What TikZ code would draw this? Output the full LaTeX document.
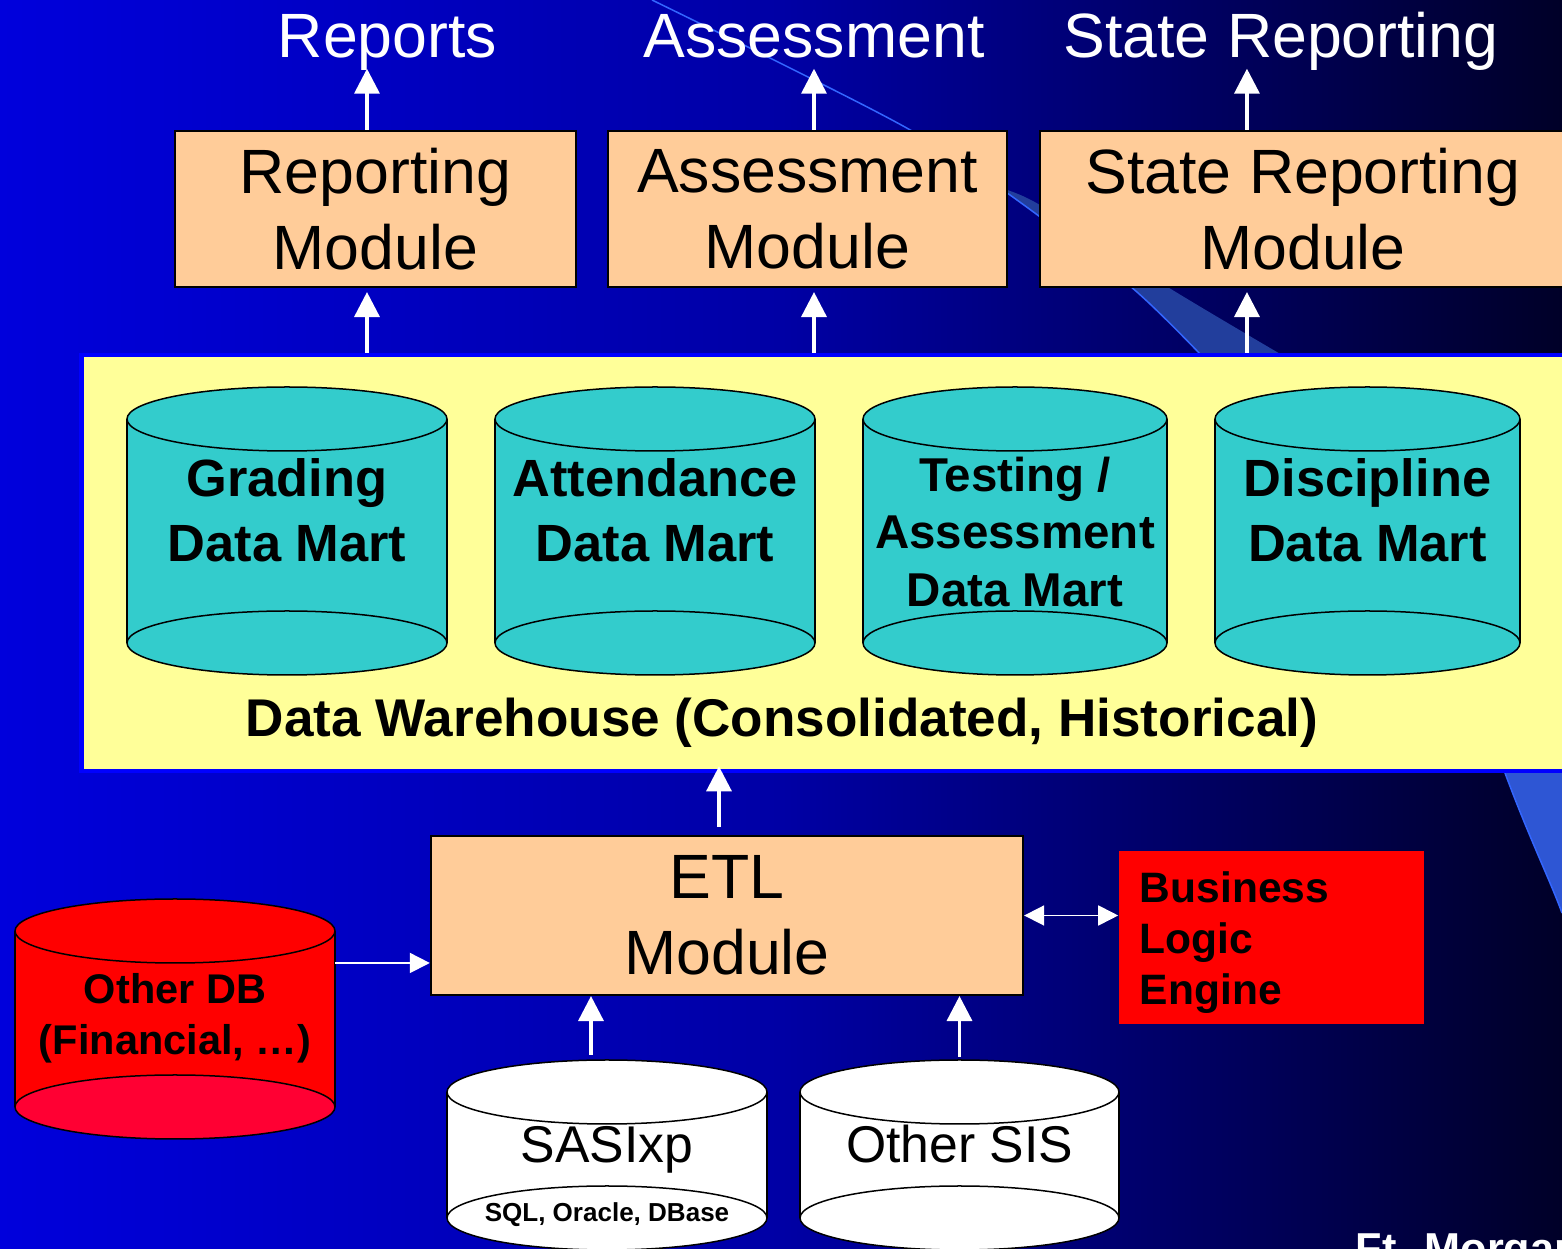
\documentclass[tikz,border=0pt]{standalone}
\usepackage{fontspec}
\setmainfont{Liberation Sans}
\usetikzlibrary{arrows.meta,calc}

\definecolor{peach}{HTML}{FFCC99}
\definecolor{martteal}{HTML}{33CCCC}
\definecolor{dwyellow}{HTML}{FFFF99}
\definecolor{dwblue}{HTML}{0000FF}
\definecolor{bgleft}{RGB}{0,0,220}
\definecolor{bgmid}{RGB}{0,0,165}
\definecolor{bgright}{RGB}{0,0,40}
\definecolor{odbred}{HTML}{FF0000}
\definecolor{odbbase}{HTML}{FF0033}
\definecolor{swooshline}{HTML}{3366FF}
\definecolor{swooshdark}{RGB}{34,62,156}
\definecolor{swooshlight}{RGB}{46,86,212}

% database can: x, top y, bottom y, half width, fill, base fill, name
\newcommand{\dbcan}[7]{%
  \fill[#5] (#1-#4,#2) rectangle (#1+#4,#3);
  \filldraw[fill=#6, draw=black, line width=0.015cm] (#1,#3) ellipse [x radius=#4, y radius=32];
  \filldraw[fill=#5, draw=black, line width=0.015cm] (#1,#2) ellipse [x radius=#4, y radius=32];
  \draw[line width=0.015cm] (#1-#4,#2) -- (#1-#4,#3) (#1+#4,#2) -- (#1+#4,#3);
  \node[inner sep=0pt, outer sep=0pt, minimum width=2*#4*0.01cm,
    minimum height=(#3-#2+64)*0.01cm] (#7) at (#1,{(#2+#3)/2}) {};
}

\begin{document}
\begin{tikzpicture}[x=0.01cm, y=-0.01cm,
  arr/.style={draw=white, line width=0.035cm, -{Triangle[length=0.25cm, width=0.25cm]}},
  thinarr/.style={draw=white, line width=0.018cm, -{Triangle[length=0.2cm, width=0.2cm]}},
  dblarr/.style={draw=white, line width=0.018cm, {Triangle[length=0.2cm, width=0.2cm]}-{Triangle[length=0.2cm, width=0.2cm]}},
  module/.style={draw=black, fill=peach, line width=0.02cm, align=center, inner sep=0pt,
    font=\fontsize{17.8}{21.6}\selectfont},
  toplabel/.style={text=white, inner sep=0.1cm, text depth=0pt, anchor=base,
    font=\fontsize{17.8}{21.6}\selectfont},
  marttext/.style={align=center, inner sep=0pt, font=\bfseries\fontsize{14.9}{18.5}\selectfont},
  sistext/.style={anchor=base, inner sep=0pt, font=\fontsize{14.7}{17}\selectfont}]

\useasboundingbox (0,0) rectangle (1562,1249);
\clip (0,0) rectangle (1562,1249);

% background
\shade[left color=bgleft, right color=bgright, middle color=bgmid] (0,0) rectangle (1562,1249);
\fill[swooshdark] plot[smooth] coordinates {(1000,188) (1130,286) (1201,355)} -- (1282,355)
  -- plot[smooth] coordinates {(1282,355) (1166,286) (1040,205) (1000,188)} -- cycle;
\draw[swooshline, line width=0.015cm] plot[smooth] coordinates {(652,0) (780,63) (912,131) (1010,195) (1130,286) (1201,355)};
\fill[swooshlight] (1505,773) .. controls (1530,840) and (1550,880) .. (1562,913) -- (1562,773) -- cycle;
\draw[swooshline, line width=0.015cm] (1505,773) .. controls (1530,840) and (1550,880) .. (1562,913);

% outputs
\node[toplabel] (replab) at (387.5,58) {Reports};
\node[toplabel] (asslab) at (814,58) {Assessment};
\node[toplabel] (statelab) at (1281,58) {State Reporting};

\node[module, minimum width=4.01cm, minimum height=1.56cm] (rep) at (375.5,209) {Reporting\\Module};
\node[module, minimum width=3.99cm, minimum height=1.56cm] (ass) at (807.5,209) {Assessment\\Module};
\node[module, minimum width=5.26cm, minimum height=1.56cm] (state) at (1303,209) {State Reporting\\Module};

% warehouse
\node[draw=dwblue, fill=dwyellow, line width=0.045cm, minimum width=14.9cm, minimum height=4.16cm,
  inner sep=0pt] (dw) at (827,563) {};

\dbcan{287}{419}{643}{160}{martteal}{martteal}{grading}
\node[marttext] (gradinglab) at (287,510.5) {Grading\\Data Mart};
\dbcan{655}{419}{643}{160}{martteal}{martteal}{attend}
\node[marttext] (attendlab) at (655,510.5) {Attendance\\Data Mart};
\dbcan{1015}{419}{643}{152}{martteal}{martteal}{testing}
\node[marttext, font=\bfseries\fontsize{13.5}{16.4}\selectfont] (testinglab) at (1015,532) {Testing /\\Assessment\\Data Mart};
\dbcan{1367.5}{419}{643}{152.5}{martteal}{martteal}{discip}
\node[marttext] (disciplab) at (1367.5,510.5) {Discipline\\Data Mart};

\node[anchor=base, inner sep=0pt, font=\bfseries\fontsize{15.1}{18}\selectfont] (dwlab) at (782,737)
  {Data Warehouse (Consolidated, Historical)};

% sources
\node[module, minimum width=5.92cm, minimum height=1.59cm] (etl) at (727,915.5) {ETL\\Module};

\node[fill=odbred, minimum height=1.73cm, text width=2.63cm, inner xsep=0.21cm, inner ysep=0pt,
  align=left, font=\bfseries\fontsize{12.1}{14.5}\selectfont] (ble) at (1271.5,937.5)
  {\rule{0pt}{0.41cm}Business\\Logic\\Engine};

\dbcan{175}{931}{1107}{160}{odbred}{odbbase}{odb}
\node[anchor=north, align=center, inner sep=0pt, font=\bfseries\fontsize{11.8}{14.3}\selectfont] (odblab)
  at (175,973) {Other DB\\(Financial, …)};

\dbcan{607}{1092}{1218}{160}{white}{white}{sasi}
\node[sistext] (sasilab) at (607,1163) {SASIxp};
\node[anchor=base, inner sep=0pt, font=\bfseries\fontsize{7.4}{9}\selectfont] (sqllab) at (607,1222) {SQL, Oracle, DBase};
\dbcan{959.5}{1092}{1218}{159.5}{white}{white}{sis}
\node[sistext] (sislab) at (959.5,1163) {Other SIS};

\node[anchor=base west, inner sep=0pt, text=white, font=\bfseries\fontsize{12.3}{14}\selectfont] (place)
  at (1355,1264) {Ft. Morgan};

% arrows
\coordinate (rep-up) at ([xshift=-0.085cm]rep.north);
\coordinate (ass-up) at ([xshift=0.065cm]ass.north);
\coordinate (state-up) at ([xshift=-0.56cm]state.north);
\draw[arr] (rep-up) -- (rep-up |- replab.south);
\draw[arr] (ass-up) -- (ass-up |- asslab.south);
\draw[arr] (state-up) -- (state-up |- statelab.south);

\coordinate (rep-in) at ([xshift=-0.085cm]rep.south);
\coordinate (ass-in) at ([xshift=0.065cm]ass.south);
\coordinate (state-in) at ([xshift=-0.56cm]state.south);
\draw[arr, shorten >=0.04cm] (rep-in |- dw.north) -- (rep-in);
\draw[arr, shorten >=0.04cm] (ass-in |- dw.north) -- (ass-in);
\draw[arr, shorten >=0.04cm] (state-in |- dw.north) -- (state-in);

\coordinate (etl-up) at ([xshift=-0.08cm]etl.north);
\draw[arr, shorten <=0.08cm, shorten >=-0.07cm] (etl-up) -- (etl-up |- dw.south);

\coordinate (sasi-up) at ([xshift=-0.16cm]sasi.north);
\draw[arr, shorten <=0.05cm] (sasi-up) -- (sasi-up |- etl.south);
\draw[arr, shorten <=0.03cm] (sis.north) -- (sis.north |- etl.south);

\coordinate (odb-out) at ([yshift=0.56cm]odb.east);
\draw[thinarr] (odb-out) -- (odb-out -| etl.west);
\draw[dblarr] (etl.east) -- (etl.east -| ble.west);

\end{tikzpicture}
\end{document}
